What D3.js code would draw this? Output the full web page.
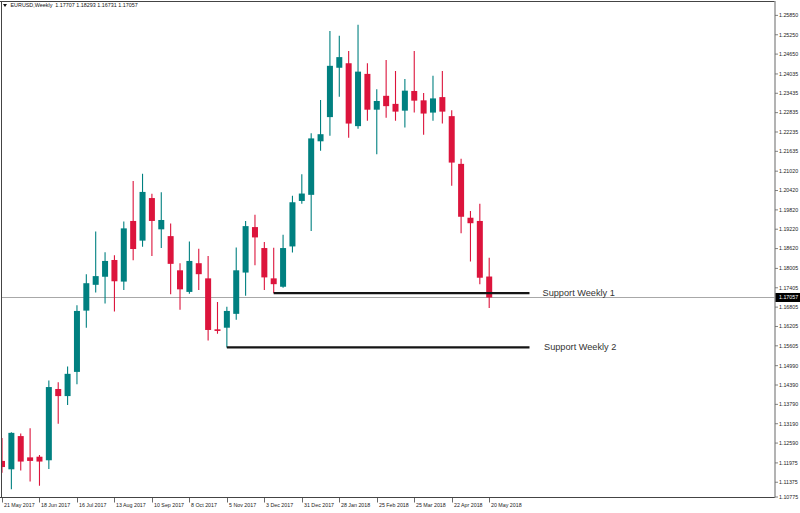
<!DOCTYPE html>
<html>
<head>
<meta charset="utf-8">
<script src="https://cdn.jsdelivr.net/npm/d3@7"></script>
<style>
html,body{margin:0;padding:0;background:#fff;}
svg{display:block;}
text{font-family:"Liberation Sans",Arial,sans-serif;}
</style>
</head>
<body>
<svg id="chart" width="800" height="513"></svg>
<script>
// ---- data (EURUSD weekly, 21 May 2017 .. 20 May 2018) ----
const opens  = [1.1199,1.1173,1.1276,1.1210,1.1212,1.1201,1.1422,1.1400,1.1475,1.1665,1.1745,1.1770,1.1822,1.1755,1.1943,1.1882,1.2014,1.1917,1.1896,1.1790,1.1723,1.1812,1.1765,1.1607,1.1612,1.1655,1.1783,1.1924,1.1859,1.1765,1.1739,1.1864,1.2005,1.2024,1.2190,1.2265,1.2418,1.2432,1.2237,1.2399,1.2288,1.2331,1.2306,1.2285,1.2346,1.2317,1.2279,1.2327,1.2268,1.2120,1.1953,1.1943,1.17707];
const highs  = [1.1270,1.1288,1.1284,1.1300,1.1217,1.1448,1.1443,1.1492,1.1682,1.1778,1.1910,1.1846,1.1837,1.1941,1.2067,1.2089,1.2027,1.2032,1.1935,1.1812,1.1879,1.1857,1.1834,1.1692,1.1677,1.1861,1.1943,1.1962,1.1878,1.1860,1.1900,1.2021,1.2088,1.2215,1.2318,1.2532,1.2517,1.2470,1.2551,1.2432,1.2351,1.2442,1.2408,1.2383,1.2470,1.2340,1.2393,1.2408,1.2286,1.2136,1.1974,1.1996,1.18293];
const lows   = [1.1162,1.1111,1.1169,1.1135,1.1122,1.1174,1.1314,1.1372,1.1437,1.1612,1.1721,1.1687,1.1662,1.1729,1.1821,1.1863,1.1834,1.1859,1.1716,1.1668,1.1717,1.1729,1.1572,1.1593,1.1551,1.1637,1.1711,1.1806,1.1729,1.1719,1.1736,1.1845,1.1996,1.1912,1.2161,1.2207,1.2328,1.2201,1.2229,1.2254,1.2150,1.2263,1.2254,1.2233,1.2279,1.2210,1.2254,1.2245,1.2052,1.1905,1.1817,1.1747,1.16731];
const closes = [1.1180,1.1286,1.1197,1.1199,1.1197,1.1428,1.1400,1.1469,1.1664,1.1750,1.1772,1.1819,1.1756,1.1920,1.1856,1.2033,1.1943,1.1946,1.1810,1.1731,1.1819,1.1778,1.1605,1.1602,1.1664,1.1790,1.1927,1.1892,1.1768,1.1747,1.1859,1.2001,1.2028,1.2199,1.2212,1.2424,1.2451,1.2245,1.2406,1.2288,1.2315,1.2299,1.2282,1.2347,1.2316,1.2276,1.2323,1.2282,1.2124,1.1956,1.1936,1.1767,1.17057];

const dateTickIndex  = [0,4,8,12,16,20,24,28,32,36,40,44,48,52];
const dateTickLabels = ["21 May 2017","18 Jun 2017","16 Jul 2017","13 Aug 2017","10 Sep 2017","8 Oct 2017","5 Nov 2017","3 Dec 2017","31 Dec 2017","28 Jan 2018","25 Feb 2018","25 Mar 2018","22 Apr 2018","20 May 2018"];

const priceTicks = [1.25850,1.25250,1.24650,1.24035,1.23435,1.22835,1.22235,1.21635,1.21020,1.20420,1.19820,1.19220,1.18620,1.18005,1.17405,1.16805,1.16205,1.15605,1.14990,1.14390,1.13790,1.13190,1.12590,1.11975,1.11375,1.10775];

const currentPrice = 1.17057;
const headerText = "EURUSD,Weekly  1.17707 1.18293 1.16731 1.17057";

const supportLabels = ["Support Weekly 1","Support Weekly 2"];
const supportLevels = [1.1719, 1.1551];
const supportStartIndex = [29, 24];

// ---- layout ----
const W = 800, H = 513;
const plotRight = 775, plotBottom = 497.5;
const teal = "#008080", red = "#dc143c";

const svg = d3.select("#chart");

const x = d3.scaleLinear().domain([0, 52]).range([2, 489.2]);
const y = d3.scaleLinear().domain([1.10775, 1.25850]).range([500.1, 13.9]);

const data = opens.map((o,i)=>({i, o, h:highs[i], l:lows[i], c:closes[i]}));

const plot = svg.append("g");
plot.append("clipPath").attr("id","clip").append("rect")
  .attr("x",1.5).attr("y",1.5).attr("width",plotRight-1.5).attr("height",plotBottom-1.5);
const inner = plot.append("g").attr("clip-path","url(#clip)");

// current price line
inner.append("line")
  .attr("x1",0).attr("x2",plotRight)
  .attr("y1",Math.round(y(currentPrice))+0.5).attr("y2",Math.round(y(currentPrice))+0.5)
  .attr("stroke","#a8a8a8").attr("stroke-width",1);

// candles
const bw = 6;
const cg = inner.selectAll("g.candle").data(data).enter().append("g");
cg.append("line")
  .attr("x1",d=>x(d.i)).attr("x2",d=>x(d.i))
  .attr("y1",d=>y(d.h)).attr("y2",d=>y(d.l))
  .attr("stroke",d=>d.c>=d.o?teal:red).attr("stroke-width",1.1);
cg.append("rect")
  .attr("x",d=>x(d.i)-bw/2)
  .attr("y",d=>y(Math.max(d.o,d.c)))
  .attr("width",bw)
  .attr("height",d=>Math.max(1.2, Math.abs(y(d.o)-y(d.c))))
  .attr("fill",d=>d.c>=d.o?teal:red);

// support lines
supportLevels.forEach((lv,k)=>{
  inner.append("line")
    .attr("x1",x(supportStartIndex[k])).attr("x2",529.5)
    .attr("y1",y(lv)).attr("y2",y(lv))
    .attr("stroke","#151515").attr("stroke-width",2.2);
  svg.append("text")
    .attr("x", k===0?542.5:544).attr("y", y(lv)+3)
    .attr("font-size","9.2px").attr("fill","#333")
    .text(supportLabels[k]);
});

// frame
svg.append("line").attr("x1",0).attr("x2",plotRight).attr("y1",1.5).attr("y2",1.5).attr("stroke","#444");
svg.append("line").attr("x1",1.5).attr("x2",1.5).attr("y1",1).attr("y2",plotBottom).attr("stroke","#444");
svg.append("line").attr("x1",0).attr("x2",plotRight).attr("y1",plotBottom).attr("y2",plotBottom).attr("stroke","#444");
svg.append("line").attr("x1",plotRight).attr("x2",plotRight).attr("y1",1).attr("y2",plotBottom).attr("stroke","#9a9a9a").attr("stroke-width",1.5);

// right axis
const ra = svg.append("g");
priceTicks.forEach(p=>{
  const yy = Math.min(y(p) + 1.5, 497);
  ra.append("line").attr("x1",plotRight).attr("x2",plotRight+3).attr("y1",yy).attr("y2",yy).attr("stroke","#666").attr("stroke-width",0.8);
  ra.append("text").attr("x",779).attr("y",yy).attr("dy","0.35em")
    .attr("font-size","5.3px").attr("fill","#222").text(p.toFixed(5));
});
// current price box
const cy = y(currentPrice);
ra.append("rect").attr("x",plotRight+0.5).attr("y",cy-4.5).attr("width",W-plotRight).attr("height",9).attr("fill","#000");
ra.append("text").attr("x",779).attr("y",cy).attr("dy","0.35em")
  .attr("font-size","5.3px").attr("fill","#fff").text(currentPrice.toFixed(5));

// bottom axis
const ba = svg.append("g");
dateTickIndex.forEach((idx,k)=>{
  const xx = Math.round(x(idx))+0.5;
  ba.append("line").attr("x1",xx).attr("x2",xx).attr("y1",plotBottom).attr("y2",plotBottom+5).attr("stroke","#444").attr("stroke-width",0.8);
  ba.append("text").attr("x",xx+1.5).attr("y",505).attr("dy","0.35em")
    .attr("font-size","5.3px").attr("fill","#222").text(dateTickLabels[k]);
});

// header
svg.append("path").attr("d","M3,4 L7,4 L5,7 Z").attr("fill","#111");
svg.append("text").attr("x",10.5).attr("y",5.5).attr("dy","0.35em")
  .attr("font-size","5.4px").attr("fill","#111").attr("xml:space","preserve").text(headerText);
</script>
</body>
</html>
